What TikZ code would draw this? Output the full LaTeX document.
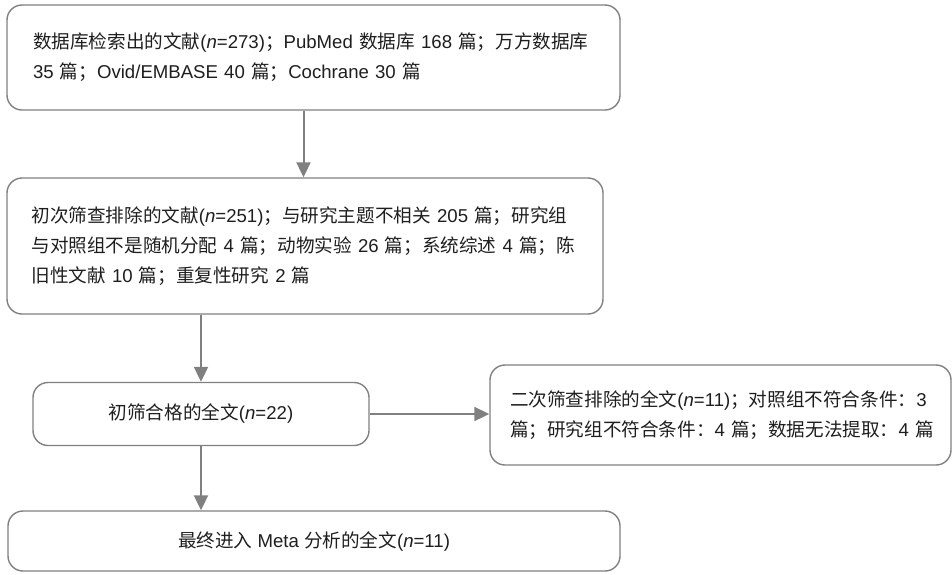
\documentclass[tikz,border=0pt]{standalone}
\usepackage{fontspec}
\setmainfont{Liberation Sans}
\newfontfamily\cjkfont{Noto Sans CJK SC}
\newcommand\zhs[1]{{\cjkfont #1}}
\usetikzlibrary{arrows.meta,calc}
\definecolor{boxgray}{HTML}{808080}
\definecolor{txt}{HTML}{1E1E1E}
\tikzset{
  box/.style={draw=boxgray, line width=1.4pt, rounded corners=15pt, align=left,
    font=\fontsize{18.6}{30}\selectfont, text=txt, inner ysep=0pt},
  conn/.style={draw=boxgray, line width=2pt, -{Triangle[length=15pt,width=14pt]}},
}
\newcommand\jline[1]{\makebox[\linewidth][s]{#1}}
\begin{document}
\begin{tikzpicture}
\useasboundingbox (0pt,0pt) rectangle (952pt,-574pt);
\node[box, text width=561pt, inner xsep=26pt, minimum height=105pt] (b1) at (313.5pt,-57.5pt)
  {\jline{\zhs{数据库检索出的文献}(\textit{n}=273)\zhs{；}PubMed \zhs{数据库} 168 \zhs{篇；万方数据库}}\\
   35 \zhs{篇；}Ovid/EMBASE 40 \zhs{篇；}Cochrane 30 \zhs{篇}};
\node[box, text width=547pt, inner xsep=24.5pt, minimum height=136pt] (b2) at (305pt,-246pt)
  {\jline{\zhs{初次筛查排除的文献}(\textit{n}=251)\zhs{；与研究主题不相关} 205 \zhs{篇；研究组}}\\
   \jline{\zhs{与对照组不是随机分配} 4 \zhs{篇；动物实验} 26 \zhs{篇；系统综述} 4 \zhs{篇；陈}}\\
   \zhs{旧性文献} 10 \zhs{篇；重复性研究} 2 \zhs{篇}};
\node[box, align=center, minimum width=336pt, minimum height=63pt] (b3) at (201pt,-414pt)
  {\zhs{初筛合格的全文}(\textit{n}=22)};
\node[box, text width=421pt, inner xsep=20pt, minimum height=100pt] (b4) at (720.5pt,-415pt)
  {\jline{\zhs{二次筛查排除的全文}(\textit{n}=11)\zhs{；对照组不符合条件：}3}\\
   \jline{\zhs{篇；研究组不符合条件：}4 \zhs{篇；数据无法提取：}4 \zhs{篇}}};
\node[box, align=center, minimum width=612pt, minimum height=60pt] (b5) at (314pt,-541pt)
  {\zhs{最终进入} Meta \zhs{分析的全文}(\textit{n}=11)};
\coordinate (a1) at ($(b1.south)+(-10pt,0)$);
\draw[conn] (a1) -- (a1 |- b2.north);
\draw[conn] (b3.north |- b2.south) -- (b3.north);
\draw[conn] (b3.east) -- (b3.east -| b4.west);
\draw[conn] (b3.south) -- (b3.south |- b5.north);
\end{tikzpicture}
\end{document}
